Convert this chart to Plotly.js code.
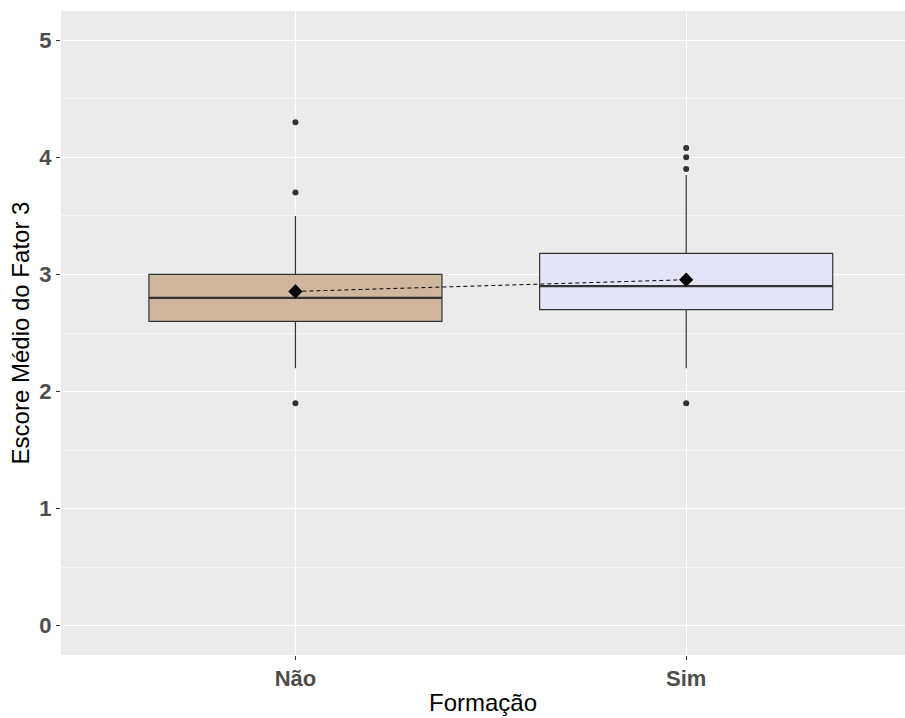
<!DOCTYPE html>
<html>
<head>
<meta charset="utf-8">
<script src="https://cdn.plot.ly/plotly-3.0.1.min.js"></script>
<style>body{margin:0;padding:0;background:#fff}</style>
</head>
<body>
<div id="chart" style="width:905px;height:718px"></div>
<script>
// Data
var categories = ["Não", "Sim"];
var catPos = [1, 2];
var q1 = [2.6, 2.7];
var medians = [2.8, 2.9];
var q3 = [3.0, 3.18];
var lowerWhisker = [2.2, 2.2];
var upperWhisker = [3.5, 3.85];
var outliersNao = [1.9, 3.7, 4.3];
var outliersSim = [1.9, 3.9, 4.0, 4.08];
var means = [2.855, 2.955];
var fillColors = ["rgb(207,183,159)", "rgb(228,228,249)"];

var boxWidth = 0.75;
var traces = [];
for (var i = 0; i < categories.length; i++) {
  traces.push({
    type: "box",
    x: [catPos[i]],
    q1: [q1[i]], median: [medians[i]], q3: [q3[i]],
    lowerfence: [lowerWhisker[i]], upperfence: [upperWhisker[i]],
    width: boxWidth,
    whiskerwidth: 0,
    fillcolor: fillColors[i],
    line: {color: "#333333", width: 1.2},
    boxpoints: false,
    hoverinfo: "skip",
    showlegend: false
  });
  // thicker median line (ggplot fatten)
  traces.push({
    type: "scatter", mode: "lines",
    x: [catPos[i] - boxWidth / 2, catPos[i] + boxWidth / 2],
    y: [medians[i], medians[i]],
    line: {color: "#333333", width: 2.4},
    hoverinfo: "skip", showlegend: false
  });
}
var outlierSets = [outliersNao, outliersSim];
for (var j = 0; j < outlierSets.length; j++) {
  traces.push({
    type: "scatter", mode: "markers",
    x: outlierSets[j].map(function () { return catPos[j]; }),
    y: outlierSets[j],
    marker: {color: "#333333", size: 6},
    hoverinfo: "skip", showlegend: false
  });
}
traces.push({
  type: "scatter", mode: "lines+markers",
  x: catPos, y: means,
  line: {color: "#000000", width: 1, dash: "4px,3px"},
  marker: {symbol: "diamond", color: "#000000", size: 11},
  hoverinfo: "skip", showlegend: false
});

var layout = {
  width: 905, height: 718,
  margin: {l: 61, r: 0, t: 11, b: 63},
  paper_bgcolor: "#ffffff",
  plot_bgcolor: "#EBEBEB",
  font: {family: "Liberation Sans, Arial, sans-serif"},
  xaxis: {
    range: [0.4, 2.56],
    tickvals: catPos, ticktext: categories,
    showgrid: true, gridcolor: "#ffffff", gridwidth: 1.2,
    zeroline: false, showline: false,
    ticks: "outside", ticklen: 4, tickcolor: "#333333", tickwidth: 1,
    tickfont: {size: 22, color: "#4D4D4D", family: "Liberation Sans, Arial, sans-serif", weight: "bold"},
    title: {text: "Formação", font: {size: 24, color: "#000000"}, standoff: 3}
  },
  yaxis: {
    range: [-0.25, 5.25],
    tickvals: [0, 1, 2, 3, 4, 5],
    showgrid: true, gridcolor: "#ffffff", gridwidth: 1.2,
    minor: {tickvals: [0.5, 1.5, 2.5, 3.5, 4.5], showgrid: true, gridcolor: "#ffffff", gridwidth: 0.6, ticks: ""},
    zeroline: false, showline: false,
    ticks: "outside", ticklen: 4, tickcolor: "#333333", tickwidth: 1,
    tickfont: {size: 22, color: "#4D4D4D", family: "Liberation Sans, Arial, sans-serif", weight: "bold"},
    title: {text: "Escore Médio do Fator 3", font: {size: 24, color: "#000000"}, standoff: 2}
  }
};
Plotly.newPlot("chart", traces, layout, {staticPlot: true, displayModeBar: false});
</script>
</body>
</html>
